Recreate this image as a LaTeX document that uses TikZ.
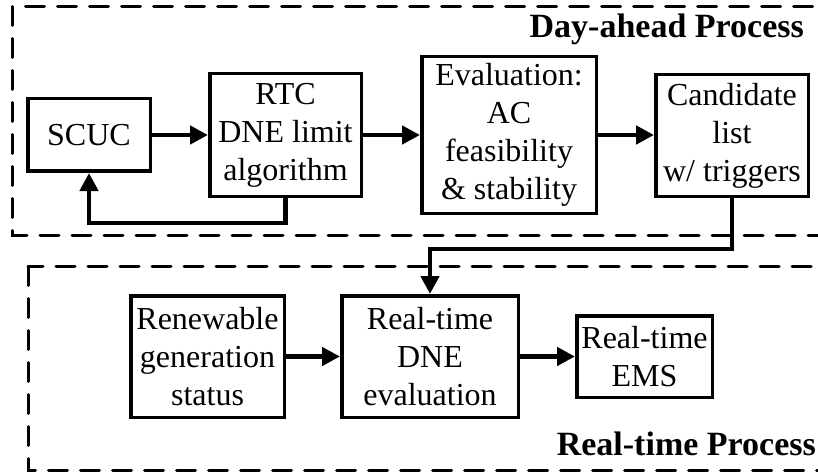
\documentclass[tikz,border=0pt]{standalone}
\usepackage{fontspec}
\setmainfont{Liberation Serif}
\usetikzlibrary{arrows.meta}

\tikzset{
  blockbox/.style={draw, line width=3.5pt, inner sep=0pt, align=center,
    font=\fontsize{32}{38}\selectfont},
  flowarrow/.style={line width=4.5pt, -{Triangle[length=18pt,width=18pt]}},
  frame/.style={line width=3pt, line cap=round, dash pattern=on 19pt off 13pt},
  caption/.style={font=\bfseries\fontsize{34}{40}\selectfont, inner sep=0pt, anchor=base east}
}

\begin{document}
\begin{tikzpicture}[x=1pt, y=-1pt]
  \useasboundingbox (0,0) rectangle (818,473);
  \clip (0,0) rectangle (818,473);

  % process frames
  \draw[frame] (12.5,6.5) rectangle (840,235);
  \draw[frame] (28,266.5) rectangle (840,470);

  \node[caption] (dalabel) at (804,38) {Day-ahead Process};
  \node[caption] (rtlabel) at (816,455) {Real-time Process};

  % day-ahead blocks
  \node[blockbox, minimum width=122.5pt, minimum height=72.5pt] (scuc) at (89,135) {SCUC};
  \node[blockbox, minimum width=151.5pt, minimum height=122.5pt] (rtc) at (285.5,135) {RTC\\DNE limit\\algorithm};
  \node[blockbox, minimum width=174.5pt, minimum height=156.5pt] (eval) at (509,135) {Evaluation:\\AC\\feasibility\\\& stability};
  \node[blockbox, minimum width=152.5pt, minimum height=121.5pt] (cand) at (732,135.5) {Candidate\\list\\w/ triggers};

  % real-time blocks
  \node[blockbox, minimum width=153.5pt, minimum height=121.5pt] (renew) at (207.5,356.5) {Renewable\\generation\\status};
  \node[blockbox, minimum width=176.5pt, minimum height=121.5pt] (rtdne) at (430,356.5) {Real-time\\DNE\\evaluation};
  \node[blockbox, minimum width=135.5pt, minimum height=81.5pt] (ems) at (644.5,356.5) {Real-time\\EMS};

  % connectors
  \draw[flowarrow] (scuc.east) -- (rtc.west);
  \draw[flowarrow] (rtc.east) -- (eval.west);
  \draw[flowarrow] (eval.east) -- (eval.east -| cand.west);
  \draw[flowarrow] (rtc.south) -- (rtc.south |- 0,223) -| (scuc.south);
  \draw[flowarrow] (cand.south) -- (cand.south |- 0,249) -| (rtdne.north);
  \draw[flowarrow] (renew.east) -- (rtdne.west);
  \draw[flowarrow] (rtdne.east) -- (ems.west);
\end{tikzpicture}
\end{document}
